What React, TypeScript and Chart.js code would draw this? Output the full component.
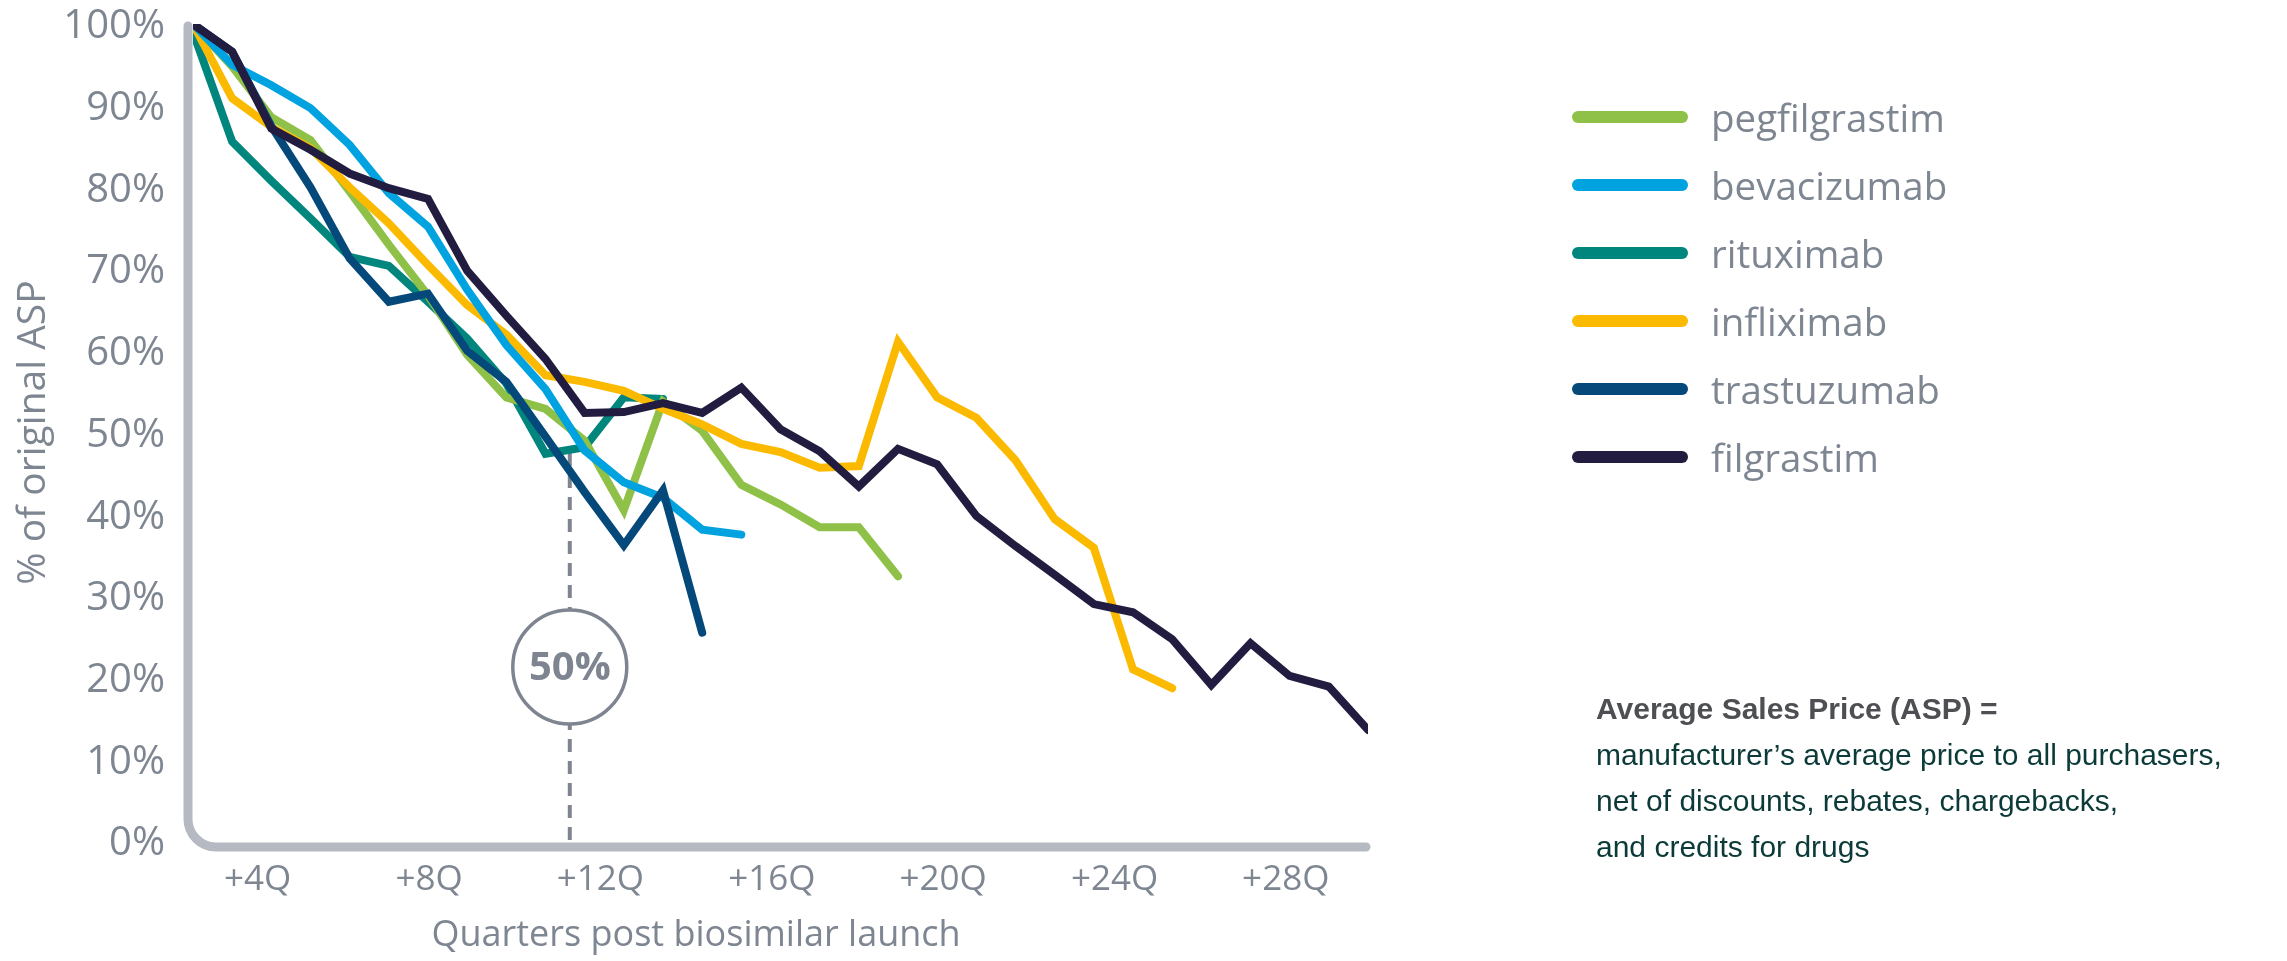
import React, { useEffect, useRef } from 'react';
import { Chart, registerables } from 'chart.js';

Chart.register(...registerables);

// Quarter index of each observation (launch quarter = 0)
const QUARTERS = [0, 1, 2, 3, 4, 5, 6, 7, 8, 9, 10, 11, 12, 13, 14, 15, 16, 17, 18, 19, 20, 21, 22, 23, 24, 25, 26, 27, 28, 29, 30];

// ASP as % of the original price, one value per quarter
const PEGFILGRASTIM = [100, 94.8, 88.6, 85.8, 79.5, 73.0, 66.8, 59.5, 54.3, 52.9, 49.0, 40.5, 53.8, 50.2, 43.6, 41.2, 38.4, 38.4, 32.4];
const BEVACIZUMAB = [100, 95.0, 92.5, 89.7, 85.2, 79.3, 75.2, 67.5, 60.7, 55.3, 47.8, 43.9, 42.0, 38.1, 37.5];
const RITUXIMAB = [99, 85.6, 80.8, 76.2, 71.5, 70.4, 66.0, 61.5, 56.0, 47.4, 48.2, 54.3, 54.1];
const INFLIXIMAB = [100, 90.9, 87.4, 84.8, 80.0, 75.6, 70.5, 65.6, 62.0, 57.0, 56.2, 55.1, 52.9, 51.0, 48.6, 47.6, 45.7, 45.9, 61.1, 54.3, 51.8, 46.6, 39.4, 35.9, 21.0, 18.7];
const TRASTUZUMAB = [100, 96.6, 87.5, 80.0, 71.3, 66.0, 67.0, 60.0, 56.2, 49.5, 42.7, 36.2, 42.9, 25.5];
const FILGRASTIM = [100, 96.6, 87.2, 84.6, 81.7, 79.9, 78.6, 69.8, 64.3, 59.0, 52.4, 52.5, 53.6, 52.4, 55.5, 50.4, 47.7, 43.4, 48.0, 46.1, 39.8, 36.1, 32.6, 29.0, 28.0, 24.7, 19.1, 24.2, 20.2, 18.9, 13.6];

const SERIES_NAMES = ['pegfilgrastim', 'bevacizumab', 'rituximab', 'infliximab', 'trastuzumab', 'filgrastim'];
const SERIES_VALUES = [PEGFILGRASTIM, BEVACIZUMAB, RITUXIMAB, INFLIXIMAB, TRASTUZUMAB, FILGRASTIM];
const SERIES_COLORS = ['#8FC148', '#00A3E0', '#00867D', '#FBBA00', '#05497B', '#221D40'];
// lower number is painted later (on top)
const SERIES_ORDER = [4, 2, 5, 3, 1, 0];

// Axis ticks
const Y_TICKS = [0, 10, 20, 30, 40, 50, 60, 70, 80, 90, 100];
const X_TICK_AT = [1.65, 6.03, 10.4, 14.78, 19.15, 23.53, 27.9];
const X_TICK_LABELS = ['+4Q', '+8Q', '+12Q', '+16Q', '+20Q', '+24Q', '+28Q'];

const Y_TITLE = '% of original ASP';
const X_TITLE = 'Quarters post biosimilar launch';

// Half-price marker
const HALF_PRICE_AT = 9.62;
const HALF_PRICE_FROM = 47.5;
const HALF_PRICE_BADGE_AT = 21.3;
const HALF_PRICE_LABEL = '50%';

const NOTE_TITLE = 'Average Sales Price (ASP) =';
const NOTE_LINES = [
  'manufacturer\u2019s average price to all purchasers,',
  'net of discounts, rebates, chargebacks,',
  'and credits for drugs',
];

const W = 2287;
const H = 961;
const FONT = "'Open Sans', 'Noto Sans', sans-serif";
const TEXT_GREY = '#7E8692';
const AXIS_GREY = '#B5BAC2';
const MARK_GREY = '#7F8590';

const framePlugin = {
  id: 'roundedFrame',
  beforeDatasetsDraw(chart: any) {
    const { ctx, chartArea } = chart;
    const { left, right, top, bottom } = chartArea;
    const x0 = left - 5;
    const y0 = bottom + 6;
    const r = 28;
    ctx.save();
    ctx.strokeStyle = AXIS_GREY;
    ctx.lineWidth = 9;
    ctx.lineCap = 'round';
    ctx.lineJoin = 'round';
    ctx.beginPath();
    ctx.moveTo(x0, top + 2);
    ctx.lineTo(x0, y0 - r);
    ctx.arcTo(x0, y0, x0 + r, y0, r);
    ctx.lineTo(right - 2, y0);
    ctx.stroke();

    // dashed half-price marker
    const xs = chart.scales.x;
    const ys = chart.scales.y;
    const mx = xs.getPixelForValue(HALF_PRICE_AT);
    ctx.strokeStyle = MARK_GREY;
    ctx.lineWidth = 4;
    ctx.lineCap = 'butt';
    ctx.setLineDash([13, 9]);
    ctx.beginPath();
    ctx.moveTo(mx, ys.getPixelForValue(HALF_PRICE_FROM));
    ctx.lineTo(mx, y0);
    ctx.stroke();
    ctx.setLineDash([]);

    const cy = ys.getPixelForValue(HALF_PRICE_BADGE_AT);
    ctx.beginPath();
    ctx.arc(mx, cy, 57, 0, Math.PI * 2);
    ctx.fillStyle = '#ffffff';
    ctx.fill();
    ctx.lineWidth = 3.5;
    ctx.stroke();
    ctx.fillStyle = MARK_GREY;
    ctx.font = `700 40px ${FONT}`;
    ctx.textAlign = 'center';
    ctx.textBaseline = 'middle';
    ctx.fillText(HALF_PRICE_LABEL, mx, cy + 2);

    // x axis title
    ctx.fillStyle = TEXT_GREY;
    ctx.font = `400 36px ${FONT}`;
    ctx.textAlign = 'center';
    ctx.textBaseline = 'middle';
    ctx.fillText(X_TITLE, 696, 936);
    ctx.restore();
  },
};

function AspChart() {
  const ref = useRef<HTMLCanvasElement | null>(null);

  useEffect(() => {
    if (!ref.current) return;
    const chart = new Chart(ref.current, {
      type: 'line',
      data: {
        labels: QUARTERS,
        datasets: SERIES_NAMES.map((name, i) => ({
          label: name,
          data: SERIES_VALUES[i],
          borderColor: SERIES_COLORS[i],
          backgroundColor: SERIES_COLORS[i],
          order: SERIES_ORDER[i],
          fill: false,
          pointRadius: 0,
          borderWidth: 8,
          tension: 0,
          borderCapStyle: 'round',
          borderJoinStyle: 'miter',
        })),
      },
      options: {
        responsive: false,
        devicePixelRatio: 1,
        animation: false,
        events: [],
        layout: { padding: { left: 0, top: 24, right: W - 1368, bottom: 0 }, autoPadding: false },
        plugins: {
          legend: { display: false },
          tooltip: { enabled: false },
          title: { display: false },
        },
        scales: {
          x: {
            type: 'linear',
            min: 0,
            max: 30,
            grid: { display: false, drawTicks: false },
            border: { display: false },
            afterBuildTicks: (s: any) => {
              s.ticks = X_TICK_AT.map((v) => ({ value: v }));
            },
            afterFit: (s: any) => {
              s.height = H - 841;
              s.paddingLeft = 0;
              s.paddingRight = 0;
            },
            ticks: {
              autoSkip: false,
              maxRotation: 0,
              minRotation: 0,
              padding: 18,
              color: TEXT_GREY,
              font: { family: FONT, size: 35 },
              callback: (_v: any, i: number) => X_TICK_LABELS[i],
            },
          },
          y: {
            type: 'linear',
            min: 0,
            max: 100,
            grid: { display: false, drawTicks: false },
            border: { display: false },
            afterBuildTicks: (s: any) => {
              s.ticks = Y_TICKS.map((v) => ({ value: v }));
            },
            afterFit: (s: any) => {
              s.width = 193;
              s.paddingTop = 0;
              s.paddingBottom = 0;
            },
            ticks: {
              padding: 28,
              labelOffset: 3,
              color: TEXT_GREY,
              font: { family: FONT, size: 40 },
              callback: (v: any) => `${v}%`,
            },
            title: {
              display: true,
              text: Y_TITLE,
              color: TEXT_GREY,
              font: { family: FONT, size: 39 },
              padding: { top: 10, bottom: 0 },
            },
          },
        },
      } as any,
      plugins: [framePlugin],
    });
    return () => chart.destroy();
  }, []);

  return (
    <canvas
      ref={ref}
      width={W}
      height={H}
      style={{ position: 'absolute', left: 0, top: 0, width: W, height: H }}
    />
  );
}

const LEGEND_TOP = 117;
const LEGEND_STEP = 68;

export default function App() {
  return (
    <div style={{ position: 'fixed', left: 0, top: 0, width: W, height: H, background: '#ffffff', overflow: 'hidden' }}>
      <AspChart />
      {SERIES_NAMES.map((name, i) => (
        <div
          key={name}
          style={{
            position: 'absolute',
            left: 1572,
            top: LEGEND_TOP + i * LEGEND_STEP - 30,
            height: 60,
            display: 'flex',
            alignItems: 'center',
          }}
        >
          <div style={{ width: 116, height: 12, borderRadius: 6, background: SERIES_COLORS[i] }} />
          <div style={{ marginLeft: 23, fontFamily: FONT, fontSize: 38.5, color: TEXT_GREY, lineHeight: '60px', whiteSpace: 'nowrap' }}>
            {name}
          </div>
        </div>
      ))}
      <div
        style={{
          position: 'absolute',
          left: 1596,
          top: 686,
          fontFamily: "'Liberation Sans', Arial, sans-serif",
          fontSize: 30,
          lineHeight: '46px',
          whiteSpace: 'nowrap',
        }}
      >
        <div style={{ fontWeight: 700, color: '#4D4F53' }}>{NOTE_TITLE}</div>
        {NOTE_LINES.map((t) => (
          <div key={t} style={{ color: '#0B3A38' }}>{t}</div>
        ))}
      </div>
    </div>
  );
}
